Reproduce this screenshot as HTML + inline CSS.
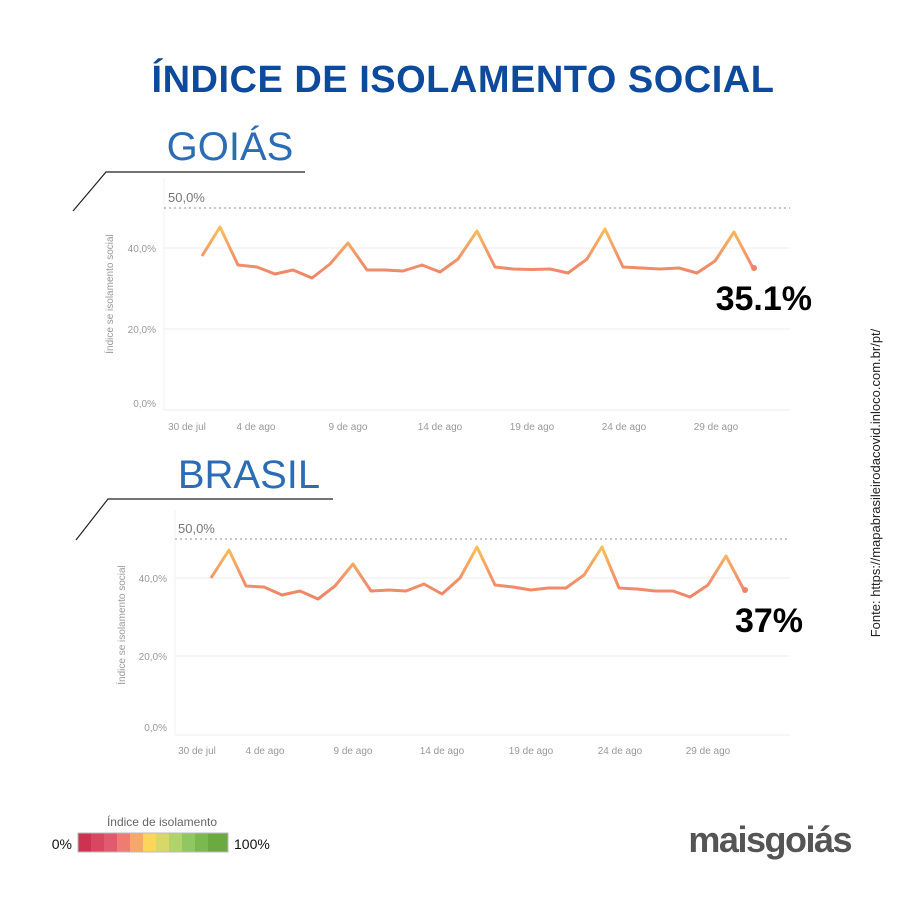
<!DOCTYPE html>
<html><head><meta charset="utf-8"><style>
body{margin:0;background:#fff;width:900px;height:900px;overflow:hidden;font-family:"Liberation Sans",sans-serif}
</style></head><body>
<svg width="900" height="900" xmlns="http://www.w3.org/2000/svg" font-family="Liberation Sans, sans-serif">
<defs>
<linearGradient id="g1" gradientUnits="userSpaceOnUse" x1="0" y1="225" x2="0" y2="280"><stop offset="0" stop-color="#f8c259"/><stop offset="0.6" stop-color="#f2946a"/><stop offset="1" stop-color="#ef8268"/></linearGradient>
<linearGradient id="g2" gradientUnits="userSpaceOnUse" x1="0" y1="545" x2="0" y2="600"><stop offset="0" stop-color="#f8c259"/><stop offset="0.6" stop-color="#f2946a"/><stop offset="1" stop-color="#ef8268"/></linearGradient>
</defs>
<text x="463" y="92" text-anchor="middle" font-size="38" font-weight="bold" fill="#0d4a9b" letter-spacing="0.5">ÍNDICE DE ISOLAMENTO SOCIAL</text>
<text x="230" y="160" text-anchor="middle" font-size="40" fill="#2b6cb5">GOIÁS</text>
<path d="M73 211 L106 172 L305 172" stroke="#222" stroke-width="1.2" fill="none"/>
<text x="249" y="488" text-anchor="middle" font-size="40" fill="#2b6cb5">BRASIL</text>
<path d="M76 540 L108 499 L333 499" stroke="#222" stroke-width="1.2" fill="none"/>
<!-- chart 1 -->
<g font-size="10" fill="#999">
<line x1="164" y1="248" x2="790" y2="248" stroke="#eee"/>
<line x1="164" y1="329" x2="790" y2="329" stroke="#eee"/>
<line x1="164" y1="410" x2="790" y2="410" stroke="#eee"/>
<line x1="164" y1="178" x2="164" y2="410" stroke="#f0f0f0"/>
<line x1="164" y1="208" x2="790" y2="208" stroke="#c8c8c8" stroke-width="2" stroke-dasharray="2,3"/>
<text x="168" y="202" font-size="13" fill="#777">50,0%</text>
<text x="156" y="252" text-anchor="end">40,0%</text>
<text x="156" y="333" text-anchor="end">20,0%</text>
<text x="156" y="407" text-anchor="end">0,0%</text>
<text transform="translate(113,294) rotate(-90)" text-anchor="middle" font-size="10">Índice se isolamento social</text>
<text x="187" y="430" text-anchor="middle">30 de jul</text>
<text x="256" y="430" text-anchor="middle">4 de ago</text>
<text x="348" y="430" text-anchor="middle">9 de ago</text>
<text x="440" y="430" text-anchor="middle">14 de ago</text>
<text x="532" y="430" text-anchor="middle">19 de ago</text>
<text x="624" y="430" text-anchor="middle">24 de ago</text>
<text x="716" y="430" text-anchor="middle">29 de ago</text>
</g>
<polyline fill="none" stroke="url(#g1)" stroke-width="3" stroke-linejoin="round" points="202,256 220,227 238,265 257,267 275,274 293,270 312,278 330,264 348,243 367,270 385,270 403,271 422,265 440,272 458,259 477,231 495,267 513,269 532,269.5 550,269 568,273 587,259 605,229 623,267 642,268 660,269 679,268 697,273 715,261 734,232 753,268"/>
<circle cx="754" cy="268" r="3" fill="#ef8268"/>
<text x="812" y="310" text-anchor="end" font-size="34" font-weight="bold" fill="#000">35.1%</text>
<!-- chart 2 -->
<g font-size="10" fill="#999">
<line x1="175" y1="578" x2="790" y2="578" stroke="#eee"/>
<line x1="175" y1="656" x2="790" y2="656" stroke="#eee"/>
<line x1="175" y1="735" x2="790" y2="735" stroke="#eee"/>
<line x1="175" y1="510" x2="175" y2="735" stroke="#f0f0f0"/>
<line x1="175" y1="539" x2="790" y2="539" stroke="#c8c8c8" stroke-width="2" stroke-dasharray="2,3"/>
<text x="178" y="533" font-size="13" fill="#777">50,0%</text>
<text x="167" y="582" text-anchor="end">40,0%</text>
<text x="167" y="660" text-anchor="end">20,0%</text>
<text x="167" y="731" text-anchor="end">0,0%</text>
<text transform="translate(125,625) rotate(-90)" text-anchor="middle" font-size="10">Índice se isolamento social</text>
<text x="197" y="754" text-anchor="middle">30 de jul</text>
<text x="265" y="754" text-anchor="middle">4 de ago</text>
<text x="353" y="754" text-anchor="middle">9 de ago</text>
<text x="442" y="754" text-anchor="middle">14 de ago</text>
<text x="531" y="754" text-anchor="middle">19 de ago</text>
<text x="620" y="754" text-anchor="middle">24 de ago</text>
<text x="708" y="754" text-anchor="middle">29 de ago</text>
</g>
<polyline fill="none" stroke="url(#g2)" stroke-width="3" stroke-linejoin="round" points="211,578 229,550 246,586 264,587 282,595 300,591 318,599 335,586 353,564 371,591 389,590 406,591 424,584 442,594 460,578 477,547 495,585 513,587 531,590 548,588 566,588 584,575 602,547 619,588 637,589 655,591 673,591 690,597 708,585 726,556 744,590"/>
<circle cx="745" cy="590" r="3" fill="#ef8268"/>
<text x="803" y="632" text-anchor="end" font-size="34" font-weight="bold" fill="#000">37%</text>
<text transform="translate(880,483) rotate(-90)" text-anchor="middle" font-size="13" fill="#222">Fonte: https://mapabrasileirodacovid.inloco.com.br/pt/</text>
<!-- legend -->
<text x="162" y="826" text-anchor="middle" font-size="12" fill="#666">Índice de isolamento</text>
<text x="72" y="849" text-anchor="end" font-size="14" fill="#111">0%</text>
<g>
<rect x="78" y="833" width="14" height="19" fill="#cc3350"/>
<rect x="91" y="833" width="14" height="19" fill="#d7475f"/>
<rect x="104" y="833" width="14" height="19" fill="#e15a6e"/>
<rect x="117" y="833" width="14" height="19" fill="#ef7b72"/>
<rect x="130" y="833" width="14" height="19" fill="#f5a86a"/>
<rect x="143" y="833" width="14" height="19" fill="#fbd65a"/>
<rect x="156" y="833" width="14" height="19" fill="#d8d86a"/>
<rect x="169" y="833" width="14" height="19" fill="#b0d36a"/>
<rect x="182" y="833" width="14" height="19" fill="#8fc862"/>
<rect x="195" y="833" width="14" height="19" fill="#7ab850"/>
<rect x="208" y="833" width="20" height="19" fill="#6aaa40"/>
<rect x="78" y="833" width="150" height="19" fill="none" stroke="#bbb"/>
</g>
<text x="234" y="849" font-size="14" fill="#111">100%</text>
<text x="851" y="852" text-anchor="end" font-size="36" font-weight="bold" fill="#555" letter-spacing="-1.5">maisgoiás</text>
</svg>
</body></html>
